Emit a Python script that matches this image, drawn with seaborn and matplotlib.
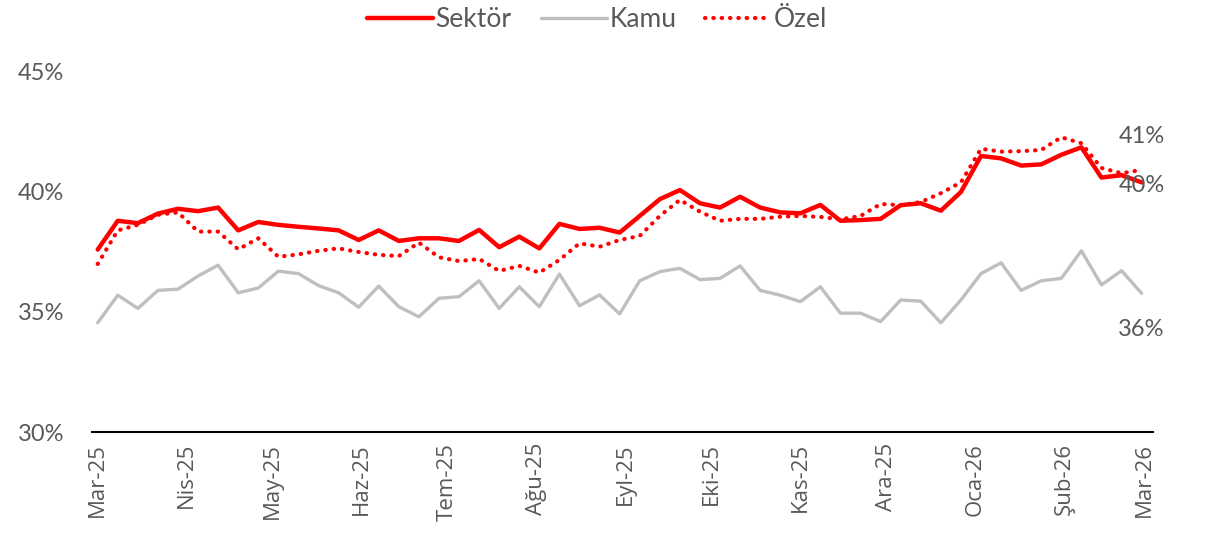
import numpy as np
import pandas as pd
import matplotlib
matplotlib.use("Agg")
import matplotlib.pyplot as plt
import seaborn as sns

# haftalık veri, Mar-25 .. Mar-26
dates = pd.date_range("2025-03-01", periods=53, freq="7D")

sektor = [37.6, 38.8, 38.7, 39.1, 39.3, 39.2, 39.35, 38.4, 38.75, 38.63,
          38.55, 38.48, 38.4, 38.0, 38.4, 37.96, 38.07, 38.07, 37.96, 38.42,
          37.7, 38.14, 37.65, 38.67, 38.46, 38.51, 38.31, 39.0, 39.7, 40.08,
          39.53, 39.35, 39.8, 39.35, 39.15, 39.11, 39.46, 38.8, 38.83, 38.88,
          39.45, 39.53, 39.22, 40.0, 41.5, 41.4, 41.1, 41.15, 41.55, 41.86,
          40.6, 40.7, 40.4]

ozel = [37.0, 38.4, 38.63, 39.05, 39.15, 38.35, 38.35, 37.61, 38.07, 37.3,
        37.4, 37.55, 37.65, 37.5, 37.38, 37.33, 37.89, 37.28, 37.12, 37.21,
        36.71, 36.92, 36.64, 37.17, 37.86, 37.72, 38.0, 38.17, 39.0, 39.67,
        39.18, 38.8, 38.88, 38.88, 38.97, 39.0, 38.96, 38.86, 39.0, 39.5,
        39.45, 39.58, 39.95, 40.4, 41.8, 41.68, 41.7, 41.75, 42.28, 42.03,
        41.0, 40.78, 40.92]

kamu = [34.55, 35.7, 35.15, 35.9, 35.95, 36.5, 36.95, 35.8, 36.0, 36.7,
        36.6, 36.1, 35.8, 35.2, 36.08, 35.22, 34.8, 35.57, 35.64, 36.3,
        35.15, 36.05, 35.22, 36.58, 35.26, 35.71, 34.92, 36.3, 36.68, 36.82,
        36.35, 36.4, 36.92, 35.9, 35.7, 35.43, 36.05, 34.95, 34.95, 34.6,
        35.5, 35.45, 34.55, 35.5, 36.6, 37.05, 35.9, 36.3, 36.4, 37.55,
        36.13, 36.72, 35.78]

month_ticks = pd.date_range("2025-03-01", periods=13, freq="MS")
month_labels = ["Mar-25", "Nis-25", "May-25", "Haz-25", "Tem-25", "Ağu-25",
                "Eyl-25", "Eki-25", "Kas-25", "Ara-25", "Oca-26", "Şub-26",
                "Mar-26"]
y_ticks = [30, 35, 40, 45]
y_labels = ["30%", "35%", "40%", "45%"]

sns.set_theme(style="white")
plt.rcParams['font.family'] = ['Lato', 'DejaVu Sans']
gray_txt = "#595959"

fig = plt.figure(figsize=(12.31, 5.35), dpi=100)
ax = fig.add_axes([0.0747, 0.1925, 0.862, 0.673])

sns.lineplot(x=dates, y=sektor, color="#FF0000", lw=3.2, ax=ax,
             label="Sektör", solid_capstyle="round", solid_joinstyle="round")
sns.lineplot(x=dates, y=kamu, color="#BFBFBF", lw=2.4, ax=ax,
             label="Kamu", solid_capstyle="round", solid_joinstyle="round")
sns.lineplot(x=dates, y=ozel, color="#FF0000", lw=3.0, ax=ax,
             label="Özel", dashes=(0.1, 1.9), dash_capstyle="round")

ax.set_ylim(30, 45)
ax.set_xlim(pd.Timestamp("2025-02-27"), pd.Timestamp("2026-03-04"))
ax.set_yticks(y_ticks)
ax.set_yticklabels(y_labels, color=gray_txt, fontsize=17)
ax.set_xticks(month_ticks)
ax.set_xticklabels(month_labels, rotation=90, color=gray_txt, fontsize=16,
                   family=['Open Sans', 'DejaVu Sans'], va="top")
ax.tick_params(axis="x", length=0, pad=8)
ax.tick_params(axis="y", length=0, pad=20)
ax.set_xlabel("")
ax.set_ylabel("")

for s in ["top", "right", "left"]:
    ax.spines[s].set_visible(False)
ax.spines["bottom"].set_color("black")
ax.spines["bottom"].set_linewidth(1.5)

# son değer etiketleri
ax.annotate(f"{ozel[-1]:.0f}%", (dates[-1], ozel[-1]), xytext=(0, 24),
            textcoords="offset points", ha="center", va="center",
            fontsize=17, color=gray_txt)
ax.annotate(f"{sektor[-1]:.0f}%", (dates[-1], sektor[-1]), xytext=(0, -2),
            textcoords="offset points", ha="center", va="center",
            fontsize=17, color=gray_txt)
ax.annotate(f"{kamu[-1]:.0f}%", (dates[-1], kamu[-1]), xytext=(0, -26),
            textcoords="offset points", ha="center", va="center",
            fontsize=17, color=gray_txt)

ax.get_legend().remove()
handles, labels = ax.get_legend_handles_labels()
leg = fig.legend(handles, labels, loc="center", bbox_to_anchor=(0.485, 0.963),
                 ncol=3, frameon=False, fontsize=19, handlelength=2.5,
                 handletextpad=0.1, columnspacing=1.1)
for t in leg.get_texts():
    t.set_color(gray_txt)

fig.savefig("out.png", dpi=100)
